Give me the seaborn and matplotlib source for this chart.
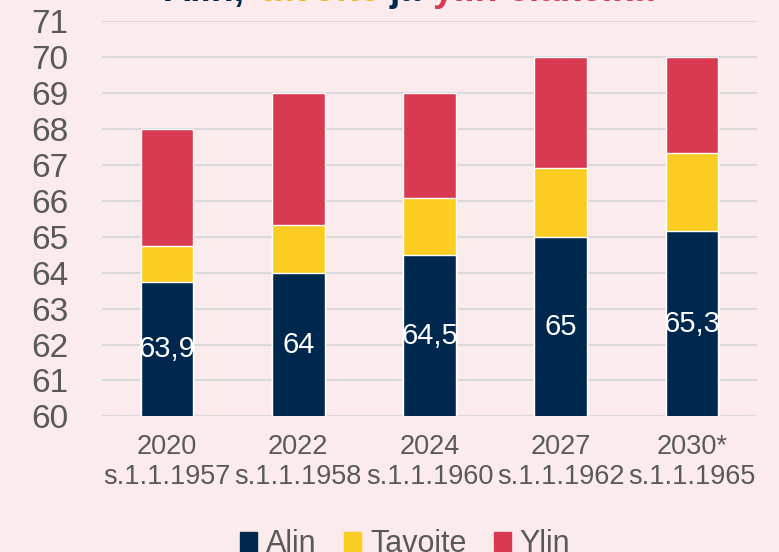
import pandas as pd
import numpy as np
import seaborn as sns
import matplotlib.pyplot as plt

# =============================================================================
# DATA
# =============================================================================

years = ["2020", "2022", "2024", "2027", "2030*"]
cohorts = ["s.1.1.1957", "s.1.1.1958", "s.1.1.1960", "s.1.1.1962", "s.1.1.1965"]

alin = [63.75, 64.0, 64.5, 65.0, 65.15]
tavoite = [64.75, 65.33, 66.07, 66.92, 67.33]
ylin = [68, 69, 69, 70, 70]

alin_labels = ["63,9", "64", "64,5", "65", "65,3"]

series_names = ["Alin", "Tavoite", "Ylin"]

# =============================================================================
# STYLE
# =============================================================================

bg = "#FCEBEC"
navy = "#00284E"
yellow = "#FBCC22"
red = "#D93A52"
grey_text = "#595959"

sns.set_theme(style="white")
plt.rcParams["font.family"] = ["Liberation Sans", "DejaVu Sans"]

categories = [f"{y}\n{c}" for y, c in zip(years, cohorts)]
df = pd.DataFrame({
    "category": categories,
    "Alin": alin,
    "Tavoite": tavoite,
    "Ylin": ylin,
})

fig = plt.figure(figsize=(7.79, 5.52), dpi=100)
fig.patch.set_facecolor(bg)
ax = fig.add_axes([0.1303, 0.2458, 0.8421, 0.7154])
ax.set_facecolor(bg)

# stacked look: tallest first, then overlay the lower ones
for col, color in zip(["Ylin", "Tavoite", "Alin"], [red, yellow, navy]):
    sns.barplot(
        data=df,
        x="category",
        y=col,
        color=color,
        width=0.4,
        saturation=1,
        ax=ax,
        zorder=3,
    )

ax.set_ylim(60, 71)
ax.set_yticks(range(60, 72))
ax.set_xlim(-0.5, len(categories) - 0.5)
ax.set_xlabel("")
ax.set_ylabel("")

ax.grid(axis="y", color="#D9D9D9", linewidth=1.5, zorder=0)
ax.set_axisbelow(True)
for s in ax.spines.values():
    s.set_visible(False)

ax.tick_params(axis="y", length=0, pad=24, labelsize=24, labelcolor=grey_text)
ax.tick_params(axis="x", length=0, pad=13, labelsize=19.5, labelcolor=grey_text)

# value labels in the middle of the visible navy part
for i, (v, lab) in enumerate(zip(alin, alin_labels)):
    ax.text(i, (60 + v) / 2, lab, ha="center", va="center",
            color="white", fontsize=21, zorder=5)

# =============================================================================
# LEGEND
# =============================================================================

handles = [plt.Rectangle((0, 0), 1, 1, color=c) for c in [navy, yellow, red]]
fig.legend(
    handles,
    series_names,
    loc="center",
    bbox_to_anchor=(0.52, 0.014),
    ncol=3,
    frameon=False,
    fontsize=22,
    handlelength=0.55,
    handleheight=0.55,
    handletextpad=0.3,
    columnspacing=0.9,
    labelcolor=grey_text,
)

# =============================================================================
# TITLE (cut off at top of image)
# =============================================================================

title_parts = ["Alin,", "tavoite", "ja", "ylin eläkeikä"]
title_colors = [navy, "#E8B916", navy, red]
title_x = [163, 260, 390, 433]
for txt, col, xp in zip(title_parts, title_colors, title_x):
    fig.text(xp / 779, 1 - 1 / 552, txt, color=col, fontsize=27,
             fontweight="bold", ha="left", va="baseline")

plt.savefig("out.png", dpi=100, facecolor=bg)
